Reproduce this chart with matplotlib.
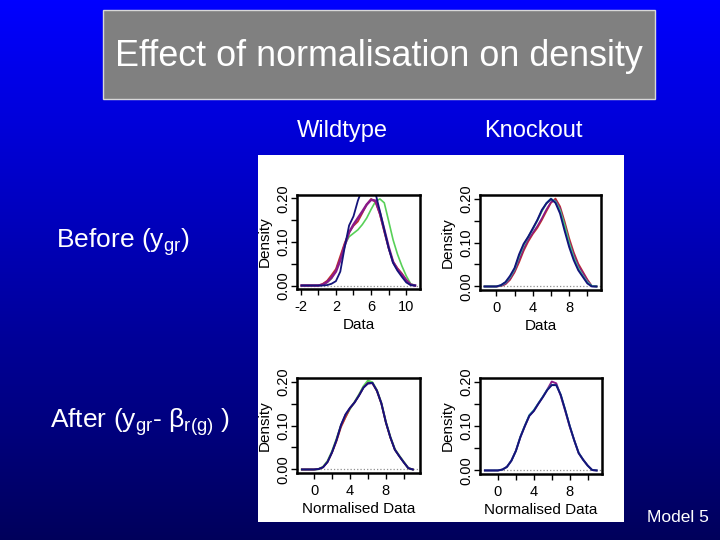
import numpy as np
import matplotlib
matplotlib.use("Agg")
import matplotlib.pyplot as plt
from matplotlib.colors import LinearSegmentedColormap
from matplotlib.patches import Rectangle

plt.rcParams['font.family'] = ['Liberation Sans', 'DejaVu Sans']
plt.rcParams['mathtext.fontset'] = 'custom'
plt.rcParams['mathtext.rm'] = 'Liberation Sans'
plt.rcParams['mathtext.it'] = 'Liberation Sans'
plt.rcParams['mathtext.bf'] = 'Liberation Sans:bold'

# ---------------- data ----------------
# Wildtype, before normalisation
wt_before_x = [-1.9, 0.0, 0.5, 1.0, 1.5, 2.0, 2.5, 3.0, 3.5, 4.0, 4.5, 5.0, 5.5,
               6.0, 6.5, 7.0, 7.5, 8.0, 8.5, 9.0, 9.5, 10.0, 10.5, 11.0]
wt_before_red = [0, 0.0, 0.004, 0.011, 0.024, 0.038, 0.068, 0.098, 0.122, 0.137, 0.147, 0.166,
                 0.186, 0.199, 0.192, 0.163, 0.123, 0.085, 0.055, 0.040, 0.028, 0.013, 0.002, 0]
wt_before_green = [0, 0.0, 0.001, 0.007, 0.016, 0.035, 0.062, 0.094, 0.112, 0.120, 0.128, 0.140,
                   0.155, 0.175, 0.193, 0.199, 0.190, 0.148, 0.105, 0.072, 0.045, 0.022, 0.004, 0]
wt_before_purple = [0, 0.0, 0.002, 0.008, 0.018, 0.032, 0.058, 0.092, 0.122, 0.140, 0.155, 0.170,
                    0.186, 0.197, 0.195, 0.167, 0.128, 0.088, 0.054, 0.037, 0.025, 0.012, 0.002, 0]
wt_before_navy = [0, 0.0, 0.0, 0.001, 0.004, 0.010, 0.032, 0.088, 0.138, 0.159, 0.195, 0.222,
                  0.232, 0.228, 0.212, 0.171, 0.128, 0.086, 0.052, 0.034, 0.020, 0.007, 0.001, 0]

# Knockout, before normalisation
ko_before_x = [-1.3, 0.0, 0.5, 1.0, 1.5, 2.0, 2.5, 3.0, 3.5, 4.0, 4.5, 5.0, 5.5,
               6.0, 6.5, 7.0, 7.5, 8.0, 8.5, 9.0, 9.5, 10.0, 10.5, 11.0]
ko_before_red = [0, 0.0, 0.001, 0.005, 0.015, 0.032, 0.055, 0.081, 0.102, 0.119, 0.133, 0.151,
                 0.171, 0.190, 0.200, 0.182, 0.148, 0.110, 0.078, 0.052, 0.034, 0.016, 0.001, 0]
ko_before_purple = [0, 0.0, 0.001, 0.006, 0.017, 0.035, 0.060, 0.086, 0.106, 0.122, 0.137, 0.155,
                    0.175, 0.192, 0.196, 0.178, 0.142, 0.104, 0.073, 0.048, 0.031, 0.014, 0.001, 0]
ko_before_green = [0, 0.0, 0.002, 0.009, 0.021, 0.039, 0.068, 0.093, 0.112, 0.130, 0.150, 0.171,
                   0.189, 0.198, 0.193, 0.174, 0.140, 0.100, 0.067, 0.042, 0.025, 0.010, 0.001, 0]
ko_before_cyan = [0, 0.0, 0.003, 0.009, 0.022, 0.040, 0.070, 0.095, 0.113, 0.130, 0.150, 0.172,
                  0.190, 0.200, 0.192, 0.170, 0.132, 0.095, 0.064, 0.040, 0.024, 0.009, 0.001, 0]
ko_before_navy = [0, 0.0, 0.003, 0.010, 0.024, 0.042, 0.073, 0.097, 0.113, 0.132, 0.151, 0.174,
                  0.189, 0.199, 0.190, 0.166, 0.127, 0.090, 0.060, 0.037, 0.022, 0.007, 0.0, 0]

# Wildtype, after normalisation
wt_after_x = [-1.35, 0.0, 0.5, 1.0, 1.5, 2.0, 2.5, 3.0, 3.5, 4.0, 4.5, 5.0, 5.5,
              6.0, 6.5, 7.0, 7.5, 8.0, 8.5, 9.0, 9.5, 10.0, 10.5, 11.0]
wt_after_green = [0, 0.0, 0.001, 0.006, 0.019, 0.041, 0.069, 0.100, 0.120, 0.138, 0.153, 0.170,
                  0.189, 0.202, 0.198, 0.180, 0.151, 0.108, 0.074, 0.046, 0.031, 0.017, 0.003, 0]
wt_after_red = [0, 0.0, 0.001, 0.005, 0.017, 0.038, 0.064, 0.096, 0.118, 0.139, 0.152, 0.168,
                0.186, 0.197, 0.196, 0.178, 0.149, 0.106, 0.072, 0.045, 0.030, 0.016, 0.003, 0]
wt_after_purple = [0, 0.0, 0.001, 0.005, 0.017, 0.039, 0.067, 0.101, 0.125, 0.140, 0.152, 0.168,
                   0.186, 0.195, 0.196, 0.180, 0.151, 0.108, 0.073, 0.045, 0.030, 0.016, 0.003, 0]
wt_after_navy = [0, 0.0, 0.001, 0.005, 0.017, 0.039, 0.067, 0.101, 0.125, 0.140, 0.152, 0.168,
                 0.186, 0.196, 0.197, 0.179, 0.150, 0.107, 0.073, 0.045, 0.030, 0.016, 0.003, 0]

# Knockout, after normalisation
ko_after_x = [-1.45, 0.0, 0.5, 1.0, 1.5, 2.0, 2.5, 3.0, 3.5, 4.0, 4.5, 5.0, 5.5,
              6.0, 6.5, 7.0, 7.5, 8.0, 8.5, 9.0, 9.5, 10.0, 10.5, 11.0]
ko_after_purple = [0, 0.0, 0.002, 0.008, 0.022, 0.044, 0.075, 0.100, 0.123, 0.134, 0.150, 0.165,
                   0.182, 0.200, 0.196, 0.168, 0.134, 0.099, 0.068, 0.039, 0.024, 0.011, 0.001, 0]
ko_after_cyan = [0, 0.0, 0.002, 0.008, 0.022, 0.044, 0.076, 0.101, 0.125, 0.136, 0.151, 0.166,
                 0.182, 0.193, 0.192, 0.171, 0.137, 0.101, 0.068, 0.040, 0.024, 0.011, 0.001, 0]
ko_after_navy = [0, 0.0, 0.002, 0.008, 0.022, 0.044, 0.075, 0.100, 0.123, 0.134, 0.150, 0.165,
                 0.181, 0.192, 0.192, 0.170, 0.136, 0.100, 0.068, 0.039, 0.024, 0.011, 0.001, 0]

col_labels = ["Wildtype", "Knockout"]
row_labels = [r"Before ($\mathrm{y}_{\mathrm{gr}}$)",
              r"After ($\mathrm{y}_{\mathrm{gr}}$- $\mathrm{\beta}_{\mathrm{r(g)}}$ )"]
title = "Effect of normalisation on density"
footer = "Model 5"
ytick_vals = [0.0, 0.05, 0.10, 0.15, 0.20]
ytick_text = ["0.00", "", "0.10", "", "0.20"]

# ---------------- styling ----------------
NAVY = "#14147a"
RED = "#c0302a"
GREEN = "#58d058"
PURPLE = "#8a1a8a"
CYAN = "#30b8b0"

W, H = 720, 540
fig = plt.figure(figsize=(7.2, 5.4), dpi=100)

# gradient background
bg = fig.add_axes([0, 0, 1, 1], zorder=-10)
cmap = LinearSegmentedColormap.from_list("bg", [(0, 0, 1.0), (0, 0, 0.36)])
bg.imshow(np.linspace(0, 1, 256).reshape(-1, 1), aspect="auto", cmap=cmap,
          extent=[0, 1, 0, 1], origin="upper")
bg.set_xlim(0, 1)
bg.set_ylim(0, 1)
bg.axis("off")


def px_rect(l, t, r, b):
    return (l / W, 1 - b / H, (r - l) / W, (b - t) / H)


# title box
x0, y0, w0, h0 = px_rect(103, 10, 655, 99)
bg.add_patch(Rectangle((x0, y0), w0, h0, facecolor="#808080", edgecolor="#d8d8d8",
                       linewidth=1.0, transform=bg.transAxes))
fig.text(379 / W, 1 - 56 / H, title, color="white", fontsize=25.8,
         ha="center", va="center")

# white panel
x0, y0, w0, h0 = px_rect(258, 155, 624, 522)
bg.add_patch(Rectangle((x0, y0), w0, h0, facecolor="white", edgecolor="none",
                       transform=bg.transAxes))

# column / row labels
fig.text(342 / W, 1 - 131 / H, col_labels[0], color="white", fontsize=17, ha="center", va="center")
fig.text(533 / W, 1 - 131 / H, col_labels[1], color="white", fontsize=17, ha="center", va="center")
fig.text(56 / W, 1 - 242 / H, row_labels[0], color="white", fontsize=19, ha="left", va="center")
fig.text(50 / W, 1 - 422 / H, row_labels[1], color="white", fontsize=19, ha="left", va="center")
fig.text(709 / W, 1 - 517 / H, footer, color="white", fontsize=12.5, ha="right", va="center")

panels = [
    dict(rect=(297, 195, 420, 289), xlim=(-2.42, 11.56), x=wt_before_x,
         ticks=[-2, 0, 2, 4, 6, 8, 10], tlabels=["-2", "", "2", "", "6", "", "10"],
         xlabel="Data",
         series=[(wt_before_green, GREEN, 1.2), (wt_before_red, RED, 1.2),
                 (wt_before_purple, PURPLE, 1.8), (wt_before_navy, NAVY, 1.3)]),
    dict(rect=(480, 195, 601, 290), xlim=(-1.8, 11.5), x=ko_before_x,
         ticks=[0, 2, 4, 6, 8, 10], tlabels=["0", "", "4", "", "8", ""],
         xlabel="Data",
         series=[(ko_before_red, RED, 1.2), (ko_before_purple, PURPLE, 1.2),
                 (ko_before_green, GREEN, 1.2), (ko_before_cyan, CYAN, 1.2),
                 (ko_before_navy, NAVY, 1.4)]),
    dict(rect=(297, 378, 420, 473), xlim=(-1.9, 11.8), x=wt_after_x,
         ticks=[0, 2, 4, 6, 8, 10], tlabels=["0", "", "4", "", "8", ""],
         xlabel="Normalised Data",
         series=[(wt_after_green, GREEN, 1.5), (wt_after_red, RED, 1.2),
                 (wt_after_purple, PURPLE, 1.2), (wt_after_navy, NAVY, 1.4)]),
    dict(rect=(480, 378, 602, 474), xlim=(-2.0, 11.6), x=ko_after_x,
         ticks=[0, 2, 4, 6, 8, 10], tlabels=["0", "", "4", "", "8", ""],
         xlabel="Normalised Data",
         series=[(ko_after_purple, PURPLE, 1.4), (ko_after_cyan, CYAN, 1.2),
                 (ko_after_navy, NAVY, 1.4)]),
]

for p in panels:
    ax = fig.add_axes(px_rect(*p["rect"]))
    ax.set_facecolor("white")
    ax.axhline(0, color="#909090", linestyle=":", linewidth=0.9, zorder=1)
    for ys, c, lw in p["series"]:
        ax.plot(p["x"], ys, color=c, linewidth=lw, zorder=2)
    ax.set_xlim(*p["xlim"])
    ax.set_ylim(-0.008, 0.208)
    ax.set_xticks(p["ticks"])
    ax.set_xticklabels(p["tlabels"])
    ax.set_yticks(ytick_vals)
    ax.set_yticklabels(ytick_text, rotation=90, va="center")
    for s in ax.spines.values():
        s.set_linewidth(1.8)
        s.set_color("black")
    ax.tick_params(axis="both", direction="out", length=4, width=1.0,
                   labelsize=10.5, colors="black")
    ax.tick_params(axis="x", pad=4)
    ax.tick_params(axis="y", pad=1)
    ax.set_xlabel(p["xlabel"], fontsize=11, labelpad=3)
    ax.set_ylabel("Density", fontsize=11, labelpad=3)

fig.savefig("out.png", dpi=100)
